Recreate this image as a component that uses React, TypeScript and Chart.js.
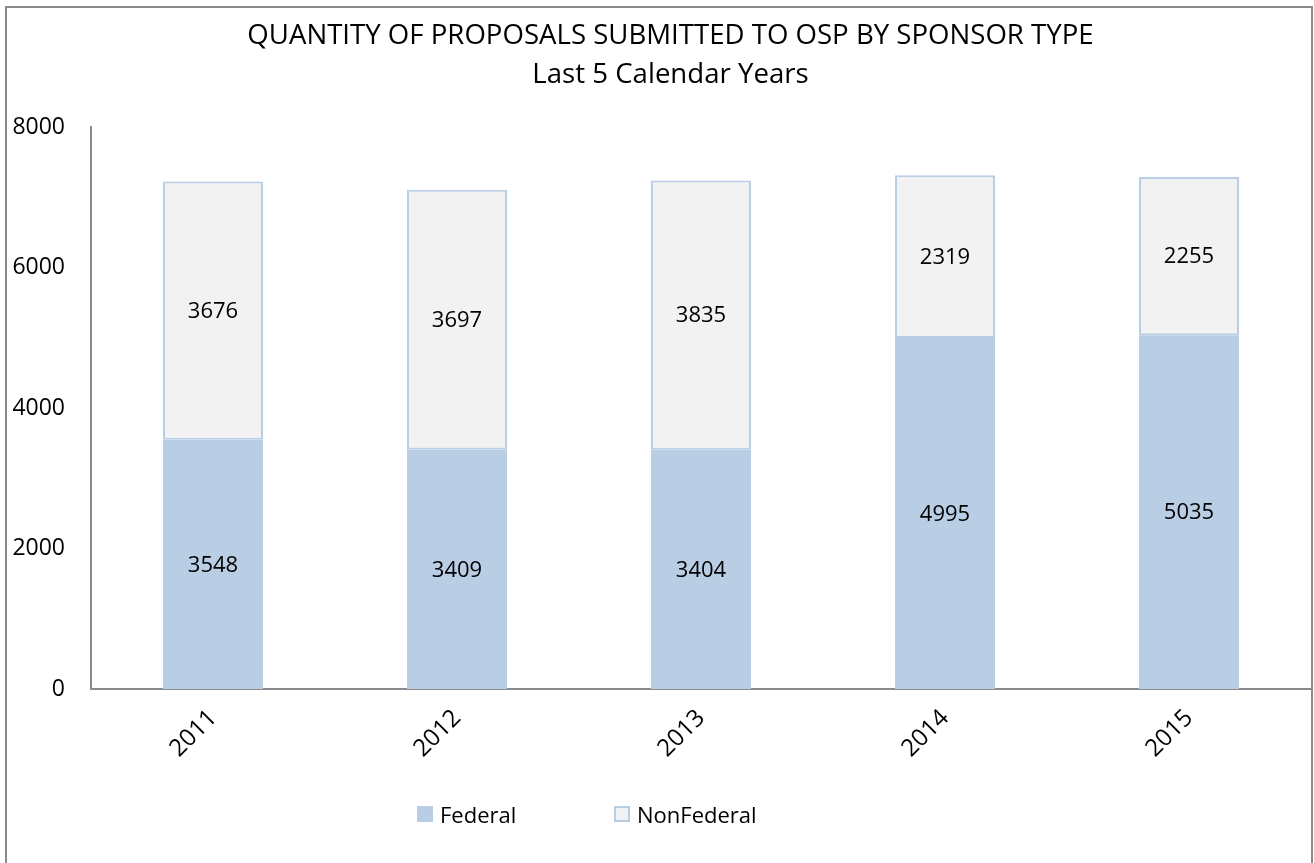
import React, { useEffect, useRef } from "react";
import { Chart, registerables } from "chart.js";

Chart.register(...registerables);

const years = ["2011", "2012", "2013", "2014", "2015"];
const federal = [3548, 3409, 3404, 4995, 5035];
const nonFederal = [3676, 3697, 3835, 2319, 2255];
const titleLines = ["QUANTITY OF PROPOSALS SUBMITTED TO OSP BY SPONSOR TYPE", "Last 5 Calendar Years"];
const seriesNames = ["Federal", "NonFederal"];

const FONT = "'Open Sans', 'Liberation Sans', sans-serif";
const FED_COLOR = "#B9CDE5";
const NONFED_COLOR = "#F2F2F2";
const AXIS_COLOR = "#8a8a8a";

const valueLabels = {
  id: "valueLabels",
  afterDatasetsDraw(chart: any) {
    const ctx = chart.ctx;
    ctx.save();
    ctx.font = `22px ${FONT}`;
    ctx.fillStyle = "#000";
    ctx.textAlign = "center";
    ctx.textBaseline = "middle";
    chart.data.datasets.forEach((ds: any, i: number) => {
      const meta = chart.getDatasetMeta(i);
      meta.data.forEach((el: any, j: number) => {
        const p = el.getProps(["x", "y", "base"], true);
        ctx.fillText(String(ds.data[j]), p.x, (p.y + p.base) / 2 + 1);
      });
    });
    ctx.restore();
  },
};

// Shift the title's centring box so it is centred like the reference
const titleOffset = {
  id: "titleOffset",
  afterLayout(chart: any) {
    const t = chart.titleBlock;
    if (t) {
      t.left += 30;
      t.right += 0;
    }
  },
};

export default function App() {
  const ref = useRef<HTMLCanvasElement>(null);
  useEffect(() => {
    if (!ref.current) return;
    const chart = new Chart(ref.current, {
      type: "bar",
      data: {
        labels: years,
        datasets: [
          {
            label: seriesNames[0],
            data: federal,
            backgroundColor: FED_COLOR,
            borderWidth: 0,
            categoryPercentage: 1,
            barPercentage: 0.41,
          },
          {
            label: seriesNames[1],
            data: nonFederal,
            backgroundColor: NONFED_COLOR,
            borderColor: FED_COLOR,
            borderWidth: 2,
            borderSkipped: false,
            categoryPercentage: 1,
            barPercentage: 0.41,
          },
        ],
      },
      plugins: [valueLabels, titleOffset],
      options: {
        responsive: false,
        animation: false,
        layout: { padding: { left: 0, right: 3, top: 0, bottom: 0 } },
        plugins: {
          legend: { display: false },
          tooltip: { enabled: false },
          title: {
            display: true,
            text: titleLines,
            color: "#000",
            font: { family: FONT, size: 27.6, weight: "normal", lineHeight: 1.413 },
            padding: { top: 17, bottom: 32 },
          },
        },
        scales: {
          x: {
            stacked: true,
            grid: { display: false, drawTicks: false },
            border: { display: true, color: AXIS_COLOR, width: 2 },
            ticks: {
              color: "#000",
              font: { family: FONT, size: 24 },
              minRotation: 45,
              maxRotation: 45,
              padding: 15,
            },
            afterFit: (s: any) => {
              s.height = 174;
            },
          },
          y: {
            stacked: true,
            min: 0,
            max: 8000,
            grid: { display: false, drawTicks: false },
            border: { display: true, color: AXIS_COLOR, width: 2 },
            ticks: {
              stepSize: 2000,
              color: "#000",
              font: { family: FONT, size: 23 },
              padding: 26,
              callback: (v: any) => String(v),
            },
            afterFit: (s: any) => {
              s.width = 91;
            },
          },
        },
      },
    });
    return () => chart.destroy();
  }, []);

  const legendText: React.CSSProperties = {
    position: "absolute",
    fontFamily: FONT,
    fontSize: 22,
    color: "#000",
    lineHeight: "30px",
    top: 799,
    whiteSpace: "nowrap",
  };
  const box = (left: number, bg: string, border: string): React.CSSProperties => ({
    position: "absolute",
    left,
    top: 806,
    width: 16,
    height: 16,
    boxSizing: "border-box",
    background: bg,
    border: `2px solid ${border}`,
  });

  return (
    <div style={{ position: "fixed", left: 0, top: 0, width: 1314, height: 863, background: "#fff", overflow: "hidden" }}>
      <canvas ref={ref} width={1314} height={863} style={{ position: "absolute", left: 0, top: 0 }} />
      <div style={box(417, FED_COLOR, FED_COLOR)} />
      <div style={{ ...legendText, left: 440 }}>{seriesNames[0]}</div>
      <div style={box(614, NONFED_COLOR, FED_COLOR)} />
      <div style={{ ...legendText, left: 637 }}>{seriesNames[1]}</div>
      <div
        style={{
          position: "absolute",
          left: 5,
          top: 6,
          width: 1308,
          height: 900,
          boxSizing: "border-box",
          border: "2px solid #8a8a8a",
          pointerEvents: "none",
        }}
      />
    </div>
  );
}
